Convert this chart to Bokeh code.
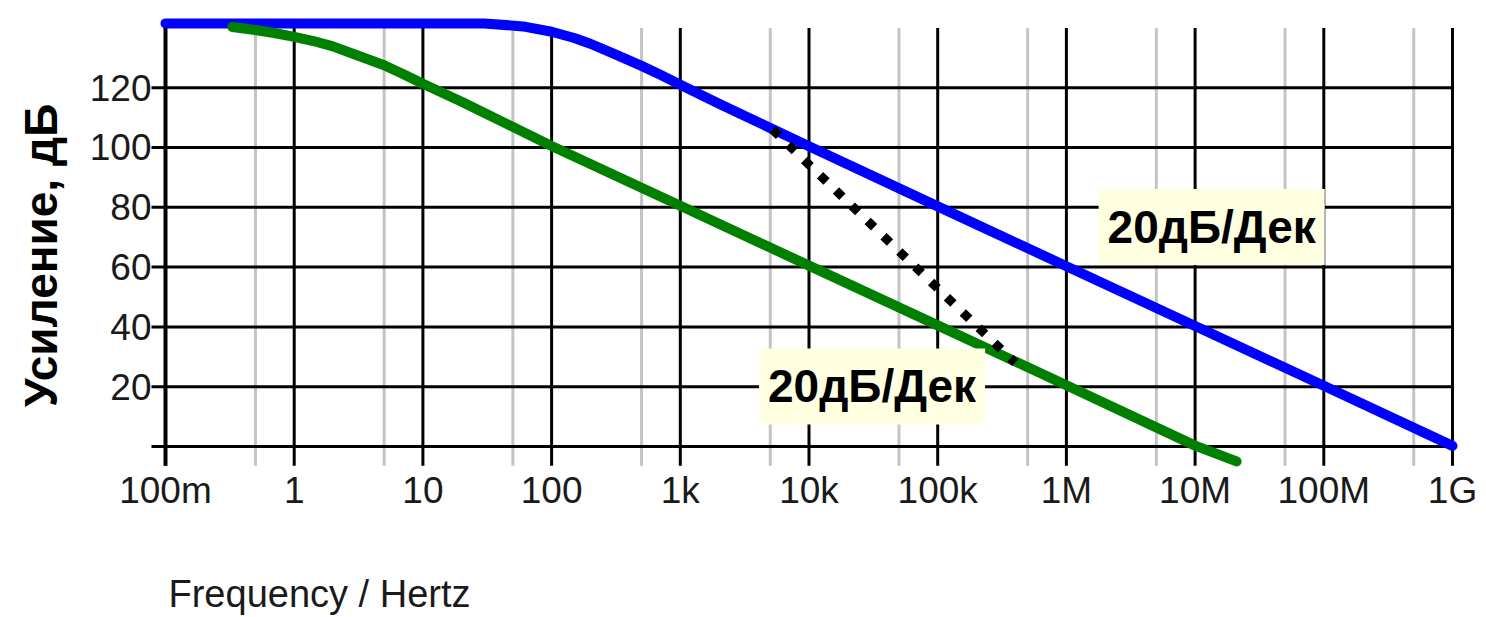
import math
from bokeh.plotting import figure
from bokeh.models import Label, FixedTicker, Range1d
from bokeh.embed import file_html
from bokeh.resources import INLINE

# ---------------- data ----------------
blue_freq = [0.1, 30, 60, 100, 150, 200, 300, 500, 700, 1e3, 2e3, 1e4, 1e5, 1e6, 1e7, 1e8, 1e9]
blue_gain = [141.5, 141.5, 140.5, 138.7, 136.6, 134.7, 131.5, 127.3, 124.3, 121.0, 114.6,
             100.4, 80.3, 60.3, 40.3, 20.3, 0.2]

green_freq = [0.33, 0.5, 0.7, 1, 1.5, 2, 3, 5, 7, 10, 20, 100, 1e3, 1e4, 1e5, 1e6, 1e7, 2.1e7]
green_gain = [140.3, 139.3, 138.3, 137.0, 135.3, 133.8, 131.0, 127.5, 124.6, 121.3, 115.3,
              100.5, 80.5, 60.5, 40.5, 20.5, 0.3, -5.0]

slope_freq = [5.2e3, 4.0e5]
slope_gain = [106.0, 28.0]

x_ticks = [0.1, 1, 10, 100, 1e3, 1e4, 1e5, 1e6, 1e7, 1e8, 1e9]
x_tick_labels = ["100m", "1", "10", "100", "1k", "10k", "100k", "1M", "10M", "100M", "1G"]
x_minor = [0.5, 5, 50, 500, 5e3, 5e4, 5e5, 5e6, 5e7, 5e8]
y_grid = [0, 20, 40, 60, 80, 100, 120]
y_label_ticks = [20, 40, 60, 80, 100, 120]
y_grid_top = 140

annot_text = "20дБ/Дек"
x_title = "Frequency / Hertz"
y_title = "Усиление, дБ"

# ---------------- layout (frame covers the whole canvas) ----------------
X_START = 10 ** -2.2821
X_END = 10 ** 9.2642
Y_START = -57.19
Y_END = 149.16
GRID_LEFT = 10 ** -1.1088
GRID_BOTTOM = -6.4

p = figure(width=1486, height=617, x_axis_type="log",
           x_range=Range1d(X_START, X_END), y_range=Range1d(Y_START, Y_END),
           output_backend="svg", toolbar_location=None,
           min_border_left=0, min_border_right=0,
           min_border_top=0, min_border_bottom=0)
p.outline_line_color = None
p.grid.visible = False
p.background_fill_color = "white"
p.border_fill_color = "white"

# grid
n_minor = len(x_minor)
p.segment(x0=x_minor, y0=[GRID_BOTTOM] * n_minor, x1=x_minor, y1=[y_grid_top] * n_minor,
          line_color="#c4c4c4", line_width=3)
n_major = len(x_ticks)
p.segment(x0=x_ticks, y0=[GRID_BOTTOM] * n_major, x1=x_ticks, y1=[y_grid_top] * n_major,
          line_color="black", line_width=3)
p.segment(x0=[x_ticks[0]], y0=[GRID_BOTTOM], x1=[x_ticks[0]], y1=[y_grid_top + 1.5],
          line_color="black", line_width=4)
n_h = len(y_grid)
p.segment(x0=[GRID_LEFT] * n_h, y0=y_grid, x1=[x_ticks[-1]] * n_h, y1=y_grid,
          line_color="black", line_width=3)

# curves
p.line(blue_freq, blue_gain, line_color="#0000ff", line_width=10, line_cap="round", line_join="round")
p.line(green_freq, green_gain, line_color="#008000", line_width=10, line_cap="round", line_join="round")
p.line(slope_freq, slope_gain, line_color="black", line_width=9, line_dash="9 13")

# axes, pinned inside the frame
FONT = "Liberation Sans"
for ax in (p.xaxis, p.yaxis):
    ax.axis_line_color = None
    ax.major_tick_line_color = None
    ax.minor_tick_line_color = None
    ax.major_tick_in = 0
    ax.major_tick_out = 0
    ax.minor_tick_in = 0
    ax.minor_tick_out = 0
    ax.major_label_text_font = FONT
    ax.major_label_text_font_size = "37px"
    ax.major_label_text_color = "#1a1a1a"

p.xaxis.ticker = FixedTicker(ticks=x_ticks)
p.xaxis.major_label_overrides = {t: l for t, l in zip(x_ticks, x_tick_labels)}
p.xaxis.fixed_location = GRID_BOTTOM
p.xaxis.major_label_standoff = 4
p.yaxis.ticker = FixedTicker(ticks=y_label_ticks)
p.yaxis.fixed_location = GRID_LEFT
p.yaxis.major_label_standoff = 0

# annotation boxes
for fx, gy in [(3.09e4, 20.1), (1.345e7, 73.4)]:
    p.add_layout(Label(x=fx, y=gy, text=annot_text, text_align="center", text_baseline="middle",
                       text_font=FONT, text_font_style="bold", text_font_size="46px",
                       text_color="black", background_fill_color="#ffffe1",
                       padding=(9, 12)))

# axis titles
p.add_layout(Label(x=10 ** -0.9767, y=-49.2, text=x_title, text_align="left",
                   text_baseline="middle", text_font=FONT, text_font_size="38px",
                   text_color="#1a1a1a"))
p.add_layout(Label(x=10 ** -1.971, y=63.9, text=y_title, angle=math.pi / 2,
                   text_align="center", text_baseline="middle", text_font=FONT,
                   text_font_style="bold", text_font_size="46px", text_color="black"))

open("out.html", "w").write(file_html(p, INLINE))
